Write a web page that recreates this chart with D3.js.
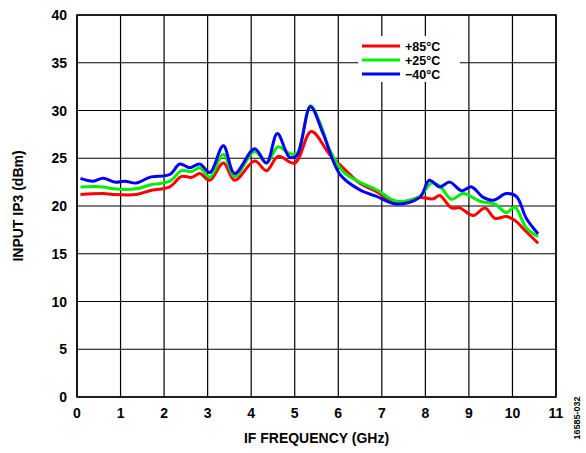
<!DOCTYPE html><html><head><meta charset="utf-8"><script src="https://cdn.jsdelivr.net/npm/d3@7"></script>
<style>body{margin:0;background:#fff}text{font-family:Arial,"Liberation Sans",sans-serif;font-weight:bold}</style></head><body><svg id="c" width="586" height="453"></svg><script>
const xTicks=[0,1,2,3,4,5,6,7,8,9,10,11];
const yTicks=[0,5,10,15,20,25,30,35,40];
const seriesNames=["+85°C","+25°C","\u221240°C"];
const colors=["#ff0000","#00ee00","#0000ff"];
const red=[[0.08,21.2],[0.6,21.3],[0.83,21.2],[1.36,21.2],[1.67,21.6],[2.13,22.0],[2.4,23.1],[2.63,23.0],[2.82,23.4],[3.05,22.7],[3.36,24.5],[3.62,22.7],[4.08,24.7],[4.35,23.7],[4.62,25.2],[5.0,24.5],[5.38,27.8],[5.8,25.4],[6.11,24.0],[6.49,22.4],[6.88,21.5],[7.34,20.3],[7.87,20.9],[8.18,20.75],[8.33,21.1],[8.6,19.8],[8.79,19.8],[9.1,19.0],[9.37,19.8],[9.6,18.7],[9.86,18.9],[10.05,18.5],[10.32,17.3],[10.59,16.1]];
const green=[[0.08,22.0],[0.6,22.0],[0.83,21.8],[1.36,21.8],[1.67,22.2],[2.13,22.6],[2.4,23.7],[2.63,23.6],[2.82,24.0],[3.05,23.0],[3.36,25.4],[3.62,23.1],[4.08,25.7],[4.35,24.5],[4.62,26.2],[4.88,25.5],[5.05,25.5],[5.36,30.5],[5.58,28.7],[5.8,25.9],[6.11,23.6],[6.49,22.5],[6.88,21.7],[7.34,20.5],[7.87,21.0],[8.14,22.4],[8.33,22.1],[8.6,20.7],[8.87,21.3],[9.25,20.5],[9.6,20.2],[9.86,19.3],[10.05,19.9],[10.32,17.7],[10.59,16.8]];
const blue=[[0.08,22.9],[0.37,22.6],[0.6,22.9],[0.87,22.5],[1.1,22.6],[1.36,22.4],[1.67,23.0],[2.13,23.3],[2.36,24.4],[2.59,24.0],[2.82,24.4],[3.05,23.5],[3.36,26.3],[3.62,23.4],[4.08,26.0],[4.35,24.5],[4.6,27.6],[4.88,25.1],[5.05,25.3],[5.36,30.4],[5.65,27.6],[6.04,23.3],[6.49,21.7],[6.88,21.0],[7.34,20.2],[7.87,20.9],[8.09,22.7],[8.33,22.0],[8.56,22.5],[8.83,21.6],[9.06,22.0],[9.33,20.9],[9.56,20.6],[9.86,21.3],[10.09,21.0],[10.32,18.7],[10.59,17.1]];
const data=[red,green,blue];
const svg=d3.select("#c");
const L=77,R=556,T=15,B=397;
const x=d3.scaleLinear().domain([0,11]).range([L,R]);
const y=d3.scaleLinear().domain([0,40]).range([B,T]);
const g=svg.append("g");
g.selectAll(".vx").data(xTicks).join("line").attr("x1",d=>x(d)).attr("x2",d=>x(d)).attr("y1",T).attr("y2",B).attr("stroke","#000").attr("stroke-width",1.2);
g.selectAll(".hy").data(yTicks).join("line").attr("y1",d=>y(d)).attr("y2",d=>y(d)).attr("x1",L).attr("x2",R).attr("stroke","#000").attr("stroke-width",1.2);
g.append("rect").attr("x",L).attr("y",T).attr("width",R-L).attr("height",B-T).attr("fill","none").attr("stroke","#000").attr("stroke-width",1.5);
g.selectAll(".xl").data(xTicks).join("text").attr("x",d=>x(d)).attr("y",B+21).attr("text-anchor","middle").attr("font-size",14).text(d=>d);
g.selectAll(".yl").data(yTicks).join("text").attr("x",L-10).attr("y",d=>y(d)+5).attr("text-anchor","end").attr("font-size",14).text(d=>d);
svg.append("text").attr("x",(L+R)/2).attr("y",443).attr("text-anchor","middle").attr("font-size",14).text("IF FREQUENCY (GHz)");
svg.append("text").attr("transform",`translate(23,${(T+B)/2}) rotate(-90)`).attr("text-anchor","middle").attr("font-size",14).text("INPUT IP3 (dBm)");
svg.append("text").attr("transform","translate(580,418) rotate(-90)").attr("text-anchor","middle").attr("font-size",9).attr("font-weight","normal").text("16585-032");
const line=d3.line().x(d=>x(d[0])).y(d=>y(d[1])).curve(d3.curveCatmullRom);
data.forEach((s,i)=>svg.append("path").attr("d",line(s)).attr("fill","none").attr("stroke",colors[i]).attr("stroke-width",3));
const lg=svg.append("g");
lg.append("rect").attr("x",358).attr("y",36).attr("width",102).attr("height",46).attr("fill","#fff");
seriesNames.forEach((n,i)=>{const yy=46+i*14;lg.append("line").attr("x1",362).attr("x2",400).attr("y1",yy).attr("y2",yy).attr("stroke",colors[i]).attr("stroke-width",3);
lg.append("text").attr("x",405).attr("y",yy+4.5).attr("font-size",12.5).text(n);});
</script></body></html>
